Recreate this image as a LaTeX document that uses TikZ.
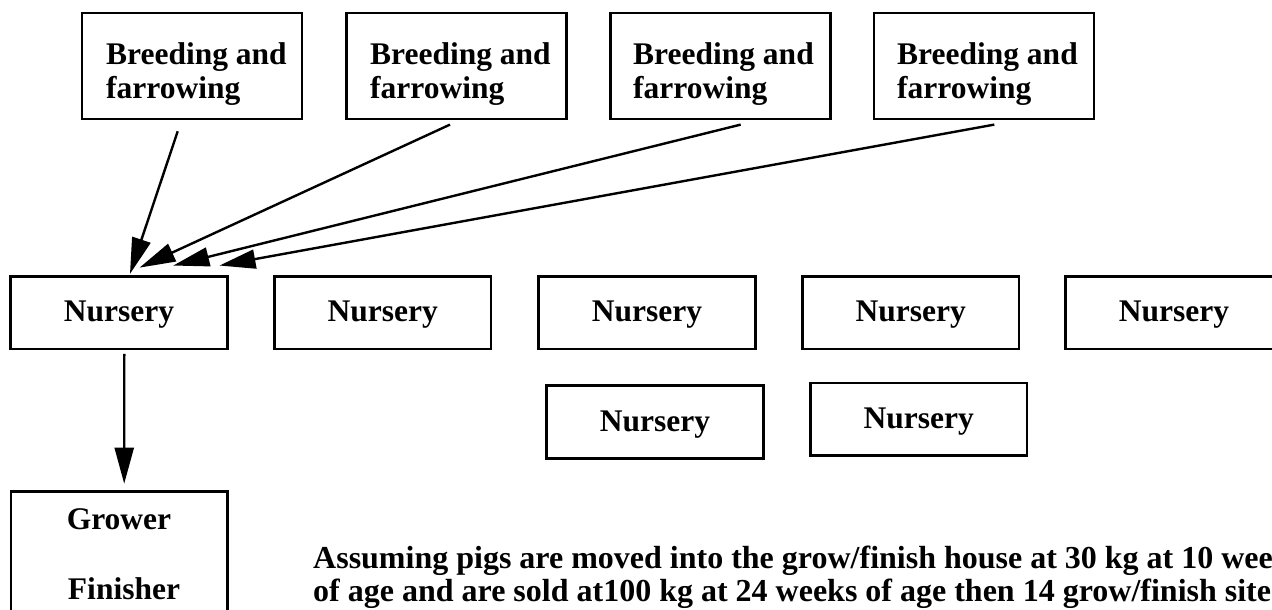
\documentclass[tikz,border=0pt]{standalone}
\usepackage{fontspec}
\setmainfont{Liberation Serif}
\usetikzlibrary{arrows.meta}
\tikzset{
  boxline/.style={draw=black, line width=2.6pt, inner sep=0pt},
  breedbox/.style={boxline, minimum width=220pt, minimum height=106pt},
  nurse/.style={boxline, minimum width=216.5pt, minimum height=72.5pt,
    font=\fontsize{31.5pt}{34.5pt}\selectfont\bfseries, text height=20pt, text depth=2pt},
  growbox/.style={boxline, minimum width=216.5pt, minimum height=150pt},
  txt/.style={anchor=base west, inner sep=0pt, font=\fontsize{31.5pt}{34.5pt}\selectfont\bfseries},
  ctxt/.style={txt, anchor=base},
  ptxt/.style={txt, font=\fontsize{32pt}{34pt}\selectfont\bfseries},
  conn/.style={line width=2.4pt, -{Triangle[length=36pt,width=19pt]}}
}
\begin{document}
\begin{tikzpicture}[x=1pt,y=-1pt]
\useasboundingbox (0,0) rectangle (1272,610);
\clip (0,0) rectangle (1272,610);
\fill[white] (0,0) rectangle (1272,610);
% breeding boxes
\node[breedbox] (b1) at (192,66) {};
\node[breedbox] (b2) at (456.5,66) {};
\node[breedbox] (b3) at (720.5,66) {};
\node[breedbox] (b4) at (984,66) {};
\node[txt] (b1a) at (106,65) {Breeding and};
\node[txt] (b1b) at (106,99) {farrowing};
\node[txt] (b2a) at (370,65) {Breeding and};
\node[txt] (b2b) at (370,99) {farrowing};
\node[txt] (b3a) at (633,65) {Breeding and};
\node[txt] (b3b) at (633,99) {farrowing};
\node[txt] (b4a) at (897,65) {Breeding and};
\node[txt] (b4b) at (897,99) {farrowing};
% nurseries
\node[nurse] (n1) at (119,312.7) {Nursery};
\node[nurse] (n2) at (382.7,312.7) {Nursery};
\node[nurse] (n3) at (647,312.7) {Nursery};
\node[nurse] (n4) at (910.7,312.7) {Nursery};
\node[nurse] (n5) at (1174,312.7) {Nursery};
\node[nurse] (n6) at (655,422) {Nursery};
\node[nurse] (n7) at (918.7,419.2) {Nursery};
% grower finisher
\node[growbox] (g) at (119.2,566.7) {};
\node[ctxt] (g1) at (119,529.3) {Grower};
\node[ctxt] (g2) at (124,599.3) {Finisher};
% note
\node[ptxt] (p1) at (313,568.3) {Assuming pigs are moved into the grow/finish house at 30 kg at 10 weeks};
\node[ptxt] (p2) at (313,601.5) {of age and are sold at100 kg at 24 weeks of age then 14 grow/finish sites};
% connectors
\coordinate (s1) at ([xshift=-14.3pt,yshift=-11pt]b1.south);
\coordinate (s2) at ([xshift=-6.5pt,yshift=-4.3pt]b2.south);
\coordinate (s3) at ([xshift=20.2pt,yshift=-4.3pt]b3.south);
\coordinate (s4) at ([xshift=10.3pt,yshift=-4.3pt]b4.south);
\coordinate (e1) at ([xshift=11pt,yshift=1.3pt]n1.north);
\coordinate (e2) at ([xshift=20.5pt,yshift=7.5pt]n1.north);
\coordinate (e3) at ([xshift=54.3pt,yshift=9.6pt]n1.north);
\coordinate (e4) at ([xshift=100.5pt,yshift=9.6pt]n1.north);
\draw[conn] (s1) -- (e1);
\draw[conn] (s2) -- (e2);
\draw[conn] (s3) -- (e3);
\draw[conn] (s4) -- (e4);
\coordinate (s5) at ([xshift=5.3pt,yshift=-3.7pt]n1.south);
\coordinate (e5) at ([xshift=5pt,yshift=6.7pt]g.north);
\draw[conn] (s5) -- (e5);
\end{tikzpicture}
\end{document}
